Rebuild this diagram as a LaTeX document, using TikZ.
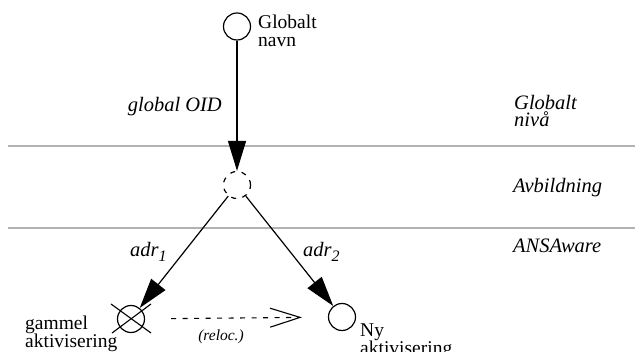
\documentclass[tikz,border=0pt]{standalone}
\usepackage{fontspec}
\setmainfont{Liberation Serif}
\usetikzlibrary{arrows.meta}

\tikzset{
  obj/.style={circle, draw, line width=1.2pt, minimum size=27pt, inner sep=0pt},
  mapobj/.style={obj, dash pattern=on 5pt off 6.5pt},
  ref/.style={line width=1.2pt, -{Triangle[length=30pt,width=18pt]}},
  reloc/.style={line width=1.1pt, dash pattern=on 5pt off 6.5pt,
    -{Straight Barb[length=30pt,width=19pt,line width=1.1pt]}},
  layer/.style={line width=2.8pt, black!30},
  lbl/.style={inner sep=0pt, font=\fontsize{19.5}{18}\selectfont},
  ilbl/.style={lbl, font=\fontsize{20.5}{17}\selectfont\itshape},
}

\newcommand{\adrsub}[1]{\textit{adr}\raisebox{-0.45ex}{\fontsize{16}{16}\selectfont\itshape #1}}

\begin{document}
\begin{tikzpicture}[x=1pt, y=-1pt]
  \useasboundingbox (0,0) rectangle (635,352);

  % layer boundaries
  \draw[layer] (8,146) -- (635,146);
  \draw[layer] (8,228) -- (635,228);

  % objects
  \node[obj]    (gname) at (237,26.5) {};
  \node[mapobj] (map)   at (237,185)  {};
  \node[obj]    (old)   at (131,319)  {};
  \node[obj]    (new)   at (342,317)  {};

  % the old activation is crossed out
  \coordinate (xa) at (111,304);
  \coordinate (xb) at (151,333);
  \coordinate (xc) at (151,304);
  \coordinate (xd) at (112,333);
  \draw[line width=1.1pt] (xa) -- (xb);
  \draw[line width=1.1pt] (xc) -- (xd);

  % references
  \draw[ref] (gname) -- (map);
  \draw[ref] (map) -- (old);
  \draw[ref] (map) -- (new);
  \draw[reloc, shorten <=26pt, shorten >=26pt] (old) -- (new);

  % object labels (base anchor sits on the last line)
  \node[lbl, anchor=base west, align=left] (gtxt) at (258,47) {Globalt\\navn};
  \node[lbl, anchor=base west, align=left] (otxt) at (25,348) {gammel\\aktivisering};
  \node[lbl, anchor=base west, align=left] (ntxt) at (360,355) {Ny\\aktivisering};

  % connector labels
  \node[ilbl, anchor=base east] (oid)  at (222,112) {global OID};
  \node[ilbl, anchor=base west] (a1)   at (130,257) {\adrsub{1}};
  \node[ilbl, anchor=base west] (a2)   at (303,257) {\adrsub{2}};
  \node[lbl, anchor=base, font=\fontsize{15.5}{15}\selectfont\itshape] (rl) at (221,341) {(reloc.)};

  % layer names
  \node[ilbl, anchor=base west, align=left] (lv1) at (514,127) {Globalt\\nivå};
  \node[ilbl, anchor=base west] (lv2) at (513,193) {Avbildning};
  \node[ilbl, anchor=base west] (lv3) at (513,253) {ANSAware};
\end{tikzpicture}
\end{document}
